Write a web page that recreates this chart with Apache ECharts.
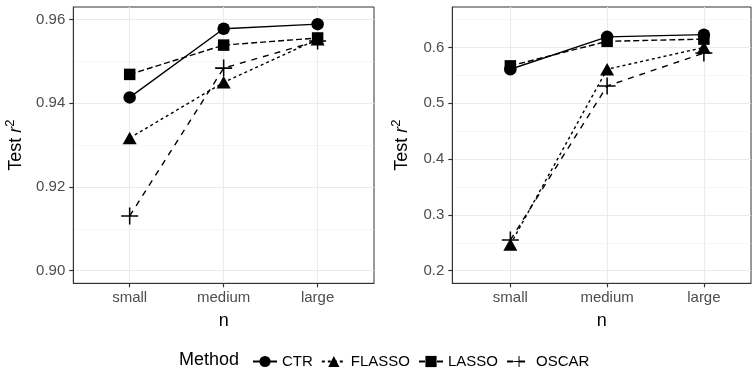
<!DOCTYPE html>
<html>
<head>
<meta charset="utf-8">
<script src="https://cdn.jsdelivr.net/npm/echarts@6/dist/echarts.min.js"></script>
<style>
  html, body { margin: 0; padding: 0; background: #fff; }
  #chart { width: 753px; height: 373px; }
</style>
</head>
<body>
<div id="chart"></div>
<script>
// categories on the x axis (n)
const sizes = ['small', 'medium', 'large']
const methods = ['CTR', 'FLASSO', 'LASSO', 'OSCAR']

// left panel values (test r^2)
const leftCTR = [0.9414, 0.9578, 0.9589]
const leftFLASSO = [0.9317, 0.9450, 0.9553]
const leftLASSO = [0.9469, 0.9539, 0.9556]
const leftOSCAR = [0.9131, 0.9484, 0.9549]

// right panel values
const rightCTR = [0.561, 0.619, 0.623]
const rightFLASSO = [0.247, 0.561, 0.600]
const rightLASSO = [0.567, 0.611, 0.615]
const rightOSCAR = [0.255, 0.531, 0.590]

// tick labels
const leftMajor = [0.90, 0.92, 0.94, 0.96]
const leftMinor = [0.91, 0.93, 0.95]
const rightMajor = [0.2, 0.3, 0.4, 0.5, 0.6]
const rightMinor = [0.25, 0.35, 0.45, 0.55, 0.65]

const FONT = '"Liberation Sans", Arial, sans-serif'
const plusPath = 'path://M0,4.55 H10 V5.45 H0 Z M4.55,0 H5.45 V10 H4.55 Z'

// look of each method: symbol, size, dash
const styles = {
  CTR: { symbol: 'circle', size: 12.5, dash: 'solid' },
  FLASSO: { symbol: 'triangle', size: [14, 12.5], dash: [3, 3] },
  LASSO: { symbol: 'rect', size: 11.5, dash: [6, 3] },
  OSCAR: { symbol: plusPath, size: 17, dash: [6, 6] }
}

const toPoints = vals => vals.map((v, i) => [i, v])

function makeSeries(name, vals, panel) {
  const s = styles[name]
  return {
    name: name,
    type: 'line',
    xAxisIndex: panel,
    yAxisIndex: panel * 2,
    data: toPoints(vals),
    symbol: s.symbol,
    symbolSize: s.size,
    showAllSymbol: true,
    itemStyle: { color: '#000', borderWidth: 0 },
    lineStyle: { color: '#000', width: 1.4, type: s.dash },
    emphasis: { disabled: true },
    animation: false
  }
}

const yName = '{a|Test }{i|r}{s|2}'
const yNameStyle = {
  fontFamily: FONT,
  color: '#000',
  rich: {
    a: { fontSize: 18, fontFamily: FONT, color: '#000' },
    i: { fontSize: 18, fontFamily: FONT, color: '#000', fontStyle: 'italic' },
    s: { fontSize: 13, fontFamily: FONT, color: '#000', padding: [0, 0, 11, 0] }
  }
}

// ticks: short, dark grey, outside the panel
const tickLine = { color: '#333', width: 1.2 }

function xAxisFor(grid, max) {
  return {
    type: 'value', gridIndex: grid, min: -0.6, max: max, position: 'bottom',
    name: 'n', nameLocation: 'middle', nameGap: 29,
    nameTextStyle: { fontFamily: FONT, fontSize: 18, color: '#000' },
    axisLine: { show: true, onZero: false, lineStyle: { color: '#333', width: 1 } },
    axisTick: { show: true, length: 4, customValues: [0, 1, 2], lineStyle: tickLine },
    axisLabel: {
      customValues: [0, 1, 2], margin: 7,
      formatter: v => sizes[Math.round(v)],
      fontFamily: FONT, fontSize: 15, color: '#4D4D4D'
    },
    splitLine: { show: true, lineStyle: { color: '#EBEBEB', width: 1.1 } }
  }
}

function yAxesFor(grid, min, max, major, minor, gap) {
  return [{
    type: 'value', gridIndex: grid, min: min, max: max, position: 'left',
    name: yName, nameLocation: 'middle', nameGap: gap, nameTextStyle: yNameStyle,
    axisLine: { show: true, onZero: false, lineStyle: { color: '#333', width: 1 } },
    axisTick: { show: true, length: 4, customValues: major, lineStyle: tickLine },
    axisLabel: {
      customValues: major, margin: 8,
      formatter: v => (min > 0.5 ? v.toFixed(2) : v.toFixed(1)),
      fontFamily: FONT, fontSize: 15, color: '#4D4D4D'
    },
    splitLine: { show: true, lineStyle: { color: '#EBEBEB', width: 1.1 } }
  }, {
    // minor grid lines only
    type: 'value', gridIndex: grid, min: min, max: max, position: 'left',
    axisLine: { show: false, onZero: false },
    axisTick: { show: false, customValues: minor },
    axisLabel: { show: false },
    splitLine: { show: true, lineStyle: { color: '#F2F2F2', width: 0.6 } }
  }]
}

const chart = echarts.init(document.getElementById('chart'), null, { renderer: 'canvas' })

chart.setOption({
  backgroundColor: '#fff',
  animation: false,
  grid: [
    { left: 73.3, top: 7, width: 300.7, height: 276.3, show: true, borderColor: '#333', borderWidth: 1, backgroundColor: '#fff', containLabel: false },
    { left: 452.3, top: 7, width: 298.7, height: 276.3, show: true, borderColor: '#333', borderWidth: 1, backgroundColor: '#fff', containLabel: false }
  ],
  xAxis: [xAxisFor(0, 2.6), xAxisFor(1, 2.487)],
  yAxis: yAxesFor(0, 0.897, 0.963, leftMajor, leftMinor, 45).concat(
    yAxesFor(1, 0.1775, 0.6725, rightMajor, rightMinor, 38)),
  legend: {
    data: methods,
    left: 252, top: 354, padding: 0,
    itemWidth: 24, itemHeight: 14, itemGap: 8,
    selectedMode: false,
    textStyle: { fontFamily: FONT, fontSize: 15, color: '#000' }
  },
  graphic: [{
    type: 'text', left: 179, top: 351,
    style: { text: 'Method', font: '18px ' + FONT, fill: '#000' }
  }],
  series: [
    makeSeries('CTR', leftCTR, 0),
    makeSeries('FLASSO', leftFLASSO, 0),
    makeSeries('LASSO', leftLASSO, 0),
    makeSeries('OSCAR', leftOSCAR, 0),
    makeSeries('CTR', rightCTR, 1),
    makeSeries('FLASSO', rightFLASSO, 1),
    makeSeries('LASSO', rightLASSO, 1),
    makeSeries('OSCAR', rightOSCAR, 1)
  ]
})
</script>
</body>
</html>
